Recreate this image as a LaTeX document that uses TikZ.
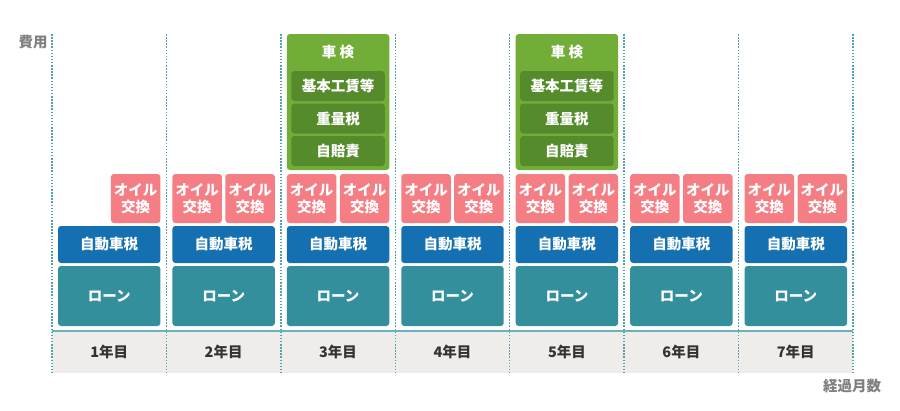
\documentclass[tikz,border=0pt]{standalone}
\usepackage{fontspec}
\setmainfont{Noto Sans CJK JP}
\definecolor{loanc}{HTML}{338F9C}
\definecolor{taxc}{HTML}{1470B0}
\definecolor{oilc}{HTML}{F57D84}
\definecolor{shakenc}{HTML}{72AD38}
\definecolor{shakenin}{HTML}{568B2B}
\definecolor{bandc}{HTML}{EFEDEA}
\definecolor{dotc}{HTML}{4FA3AF}
\definecolor{yearc}{HTML}{333333}
\definecolor{axisc}{HTML}{808080}
\tikzset{
  box/.style={rounded corners=3pt, inner sep=0pt, outer sep=0pt, anchor=north west, text=white,
    font=\bfseries\fontsize{14.5}{17}\selectfont, align=center},
  divider/.style={dotc, line width=1.5pt, dash pattern=on 1.5pt off 1.6pt},
  yearlbl/.style={text=yearc, font=\bfseries\fontsize{14.5}{17}\selectfont},
  axislbl/.style={text=axisc, font=\bfseries\fontsize{14.5}{17}\selectfont},
}
\begin{document}
\begin{tikzpicture}[x=1pt,y=-1pt]
\useasboundingbox (0,0) rectangle (900,410);
% band
\fill[bandc] (52,331) rectangle (853,373);
\draw[dotc!85, line width=1.5pt] (52,331) -- (853,331);
% dividers
\foreach \k in {0,...,7} {
  \pgfmathsetmacro\xx{52+114.43*\k}
  \coordinate (vt\k) at (\xx,34);
  \coordinate (vb\k) at (\xx,373);
  \draw[divider] (vt\k) -- (vb\k);
}
% columns
\foreach \i in {0,...,6} {
  \pgfmathsetmacro\xl{52+114.43*\i+6}
  \pgfmathsetmacro\xr{52+114.43*(\i+1)-6}
  \pgfmathsetmacro\xm{52+114.43*(\i+0.5)}
  \pgfmathsetmacro\w{\xr-\xl}
  \pgfmathsetmacro\xo{\xr-49.5}
  \pgfmathtruncatemacro\yr{\i+1}
  \node[box, fill=loanc, minimum width=\w pt, minimum height=60pt] (loan\i) at (\xl,266) {ローン};
  \node[box, fill=taxc, minimum width=\w pt, minimum height=37pt] (tax\i) at (\xl,226) {自動車税};
  \node[box, fill=oilc, minimum width=49.5pt, minimum height=49pt] (oilR\i) at (\xo,174) {オイル\\交換};
  \ifnum\i>0
    \node[box, fill=oilc, minimum width=49.5pt, minimum height=49pt] (oilL\i) at (\xl,174) {オイル\\交換};
  \fi
  \node[yearlbl] (year\i) at (\xm,352) {\yr 年目};
}
% shaken
\foreach \i in {2,4} {
  \pgfmathsetmacro\xl{52+114.43*\i+6}
  \pgfmathsetmacro\xr{52+114.43*(\i+1)-6}
  \pgfmathsetmacro\xm{52+114.43*(\i+0.5)}
  \pgfmathsetmacro\w{\xr-\xl}
  \pgfmathsetmacro\wi{\w-9}
  \pgfmathsetmacro\xi{\xl+4.5}
  \node[box, fill=shakenc, minimum width=\w pt, minimum height=136pt] (sk\i) at (\xl,34) {};
  \node[text=white, font=\bfseries\fontsize{14.5}{17}\selectfont] (skt\i) at (\xm,52.5) {車 検};
  \node[box, fill=shakenin, minimum width=\wi pt, minimum height=30pt] (ska\i) at (\xi,71) {基本工賃等};
  \node[box, fill=shakenin, minimum width=\wi pt, minimum height=30pt] (skb\i) at (\xi,103.5) {重量税};
  \node[box, fill=shakenin, minimum width=\wi pt, minimum height=30pt] (skc\i) at (\xi,136) {自賠責};
}
\node[axislbl] (ylab) at (33,42) {費用};
\node[axislbl] (xlab) at (852,386) {経過月数};
\end{tikzpicture}
\end{document}
